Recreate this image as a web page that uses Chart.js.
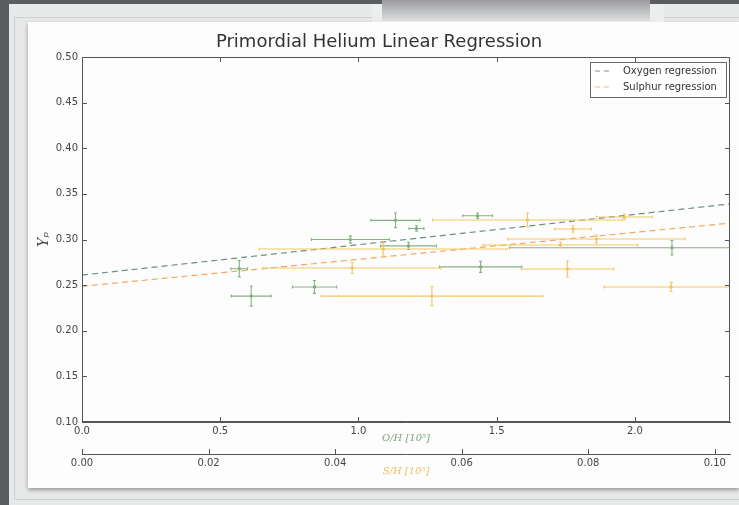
<!DOCTYPE html>
<html><head><meta charset="utf-8">
<script src="https://cdn.jsdelivr.net/npm/chart.js@4.4.1/dist/chart.umd.min.js"></script>
<style>
html,body{margin:0;padding:0;}
body{width:739px;height:505px;overflow:hidden;background:#5b5c60;position:relative;font-family:'DejaVu Sans',sans-serif;}
#frame{position:absolute;left:9px;top:4px;width:730px;height:501px;background:#e7e8e8;}
#hline{position:absolute;left:14px;top:17px;width:725px;height:1px;background:#cfd0d0;}
#vline{position:absolute;left:14px;top:17px;width:1px;height:483px;background:#cfd0d0;}
#bline{position:absolute;left:14px;top:499px;width:725px;height:1px;background:#cfd0d0;}
#panel{position:absolute;left:28px;top:22px;width:711px;height:466px;background:#fdfdfd;box-shadow:0 2px 4px rgba(0,0,0,0.35);}
#ov{position:absolute;left:372px;top:4px;width:292px;height:18px;background:#eceded;}
#ovin{position:absolute;left:382px;top:0;width:268px;height:21px;background:linear-gradient(#9c9c9e,#c4c5c6 60%,#dedfdf);}
canvas{position:absolute;left:28px;top:22px;}
</style></head>
<body>
<div id="frame"></div><div id="hline"></div><div id="vline"></div><div id="bline"></div>
<div id="panel"></div><div id="ov"></div><div id="ovin"></div>
<canvas id="c" width="711" height="466"></canvas>
<script>
// ---- data ----
const oxygenOH    = [0.569, 0.612, 0.841, 0.971, 1.134, 1.210, 1.181, 1.431, 1.442, 2.134];
const oxygenOHErr = [0.030, 0.072, 0.080, 0.141, 0.089, 0.027, 0.101, 0.054, 0.149, 0.587];
const oxygenYp    = [0.268, 0.238, 0.248, 0.300, 0.321, 0.312, 0.293, 0.326, 0.270, 0.291];
const oxygenYpErr = [0.009, 0.011, 0.007, 0.004, 0.008, 0.003, 0.004, 0.003, 0.006, 0.008];

const sulphurSH    = [0.0553, 0.0427, 0.0476, 0.0704, 0.0857, 0.0776, 0.0813, 0.0756, 0.0767, 0.0931];
const sulphurSHErr = [0.0175, 0.0140, 0.0196, 0.0150, 0.0044, 0.0029, 0.0140, 0.0122, 0.0073, 0.0106];
const sulphurYp    = [0.238, 0.2688, 0.2896, 0.3214, 0.3247, 0.3115, 0.3005, 0.294, 0.2677, 0.248];
const sulphurYpErr = [0.0105, 0.006, 0.0066, 0.0077, 0.003, 0.0035, 0.0045, 0.003, 0.0088, 0.005];

const oxygenFitX  = [0, 2.344];
const oxygenFitY  = [0.261, 0.339];
const sulphurFitX = [0, 0.1024];
const sulphurFitY = [0.2487, 0.3180];

const yTicks  = [0.10, 0.15, 0.20, 0.25, 0.30, 0.35, 0.40, 0.45, 0.50];
const ohTicks = [0.0, 0.5, 1.0, 1.5, 2.0];
const shTicks = [0.00, 0.02, 0.04, 0.06, 0.08, 0.10];

const titleText = 'Primordial Helium Linear Regression';
const legendLabels = ['Oxygen regression', 'Sulphur regression'];

// ---- styling ----
const GREEN_BAR = '#86b282', GREEN_PT = '#5f9460';
const ORANGE_BAR = '#f2c865', ORANGE_PT = '#e6b040';
const OXY_FIT = '#6f8f78', SUL_FIT = '#f6a65a';
const AXIS = '#555555';

const zip = (xs, ys) => xs.map((x, i) => ({x: x, y: ys[i]}));

const errorBars = {
  id: 'errorBars',
  afterDatasetsDraw(chart) {
    const {ctx, chartArea: a} = chart;
    ctx.save();
    ctx.beginPath(); ctx.rect(a.left, a.top, a.right - a.left, a.bottom - a.top); ctx.clip();
    chart.data.datasets.forEach((ds) => {
      if (!ds.errX) return;
      const xs = chart.scales[ds.xAxisID], ys = chart.scales.y;
      ctx.strokeStyle = ds.barColor; ctx.lineWidth = 1.1;
      ds.data.forEach((p, i) => {
        const px = xs.getPixelForValue(p.x), py = ys.getPixelForValue(p.y);
        const x0 = xs.getPixelForValue(p.x - ds.errX[i]), x1 = xs.getPixelForValue(p.x + ds.errX[i]);
        const y0 = ys.getPixelForValue(p.y - ds.errY[i]), y1 = ys.getPixelForValue(p.y + ds.errY[i]);
        ctx.beginPath();
        ctx.moveTo(x0, py); ctx.lineTo(x1, py);
        ctx.moveTo(px, y0); ctx.lineTo(px, y1);
        ctx.moveTo(x0, py - 1.5); ctx.lineTo(x0, py + 1.5);
        ctx.moveTo(x1, py - 1.5); ctx.lineTo(x1, py + 1.5);
        ctx.moveTo(px - 1.5, y0); ctx.lineTo(px + 1.5, y0);
        ctx.moveTo(px - 1.5, y1); ctx.lineTo(px + 1.5, y1);
        ctx.stroke();
      });
    });
    ctx.restore();
  }
};

const frameTicks = {
  id: 'frameTicks',
  afterDraw(chart) {
    const {ctx, chartArea: a, scales} = chart;
    ctx.save();
    ctx.strokeStyle = AXIS; ctx.lineWidth = 1;
    ctx.strokeRect(Math.round(a.left) + 0.5, Math.round(a.top) + 0.5, Math.round(a.right - a.left) - 1, Math.round(a.bottom - a.top) - 1);
    ctx.beginPath();
    scales.y.ticks.forEach(t => {
      const p = Math.round(scales.y.getPixelForValue(t.value)) + 0.5;
      ctx.moveTo(a.left, p); ctx.lineTo(a.left + 5, p);
      ctx.moveTo(a.right, p); ctx.lineTo(a.right - 5, p);
    });
    scales.x.ticks.forEach(t => {
      const p = Math.round(scales.x.getPixelForValue(t.value)) + 0.5;
      ctx.moveTo(p, a.bottom); ctx.lineTo(p, a.bottom - 5);
      ctx.moveTo(p, a.top); ctx.lineTo(p, a.top + 5);
    });
    const s2 = scales.x2;
    s2.ticks.forEach(t => {
      const p = Math.round(s2.getPixelForValue(t.value)) + 0.5;
      ctx.moveTo(p, s2.top); ctx.lineTo(p, s2.top - 5);
    });
    ctx.stroke();
    // legend
    const w = 136, h = 35;
    const lx = a.right - 4 - w, ly = a.top + 5;
    ctx.fillStyle = '#ffffff';
    ctx.fillRect(lx, ly, w, h);
    ctx.strokeStyle = '#666'; ctx.lineWidth = 1;
    ctx.strokeRect(Math.round(lx) + 0.5, Math.round(ly) + 0.5, w, h);
    const items = chart.data.datasets.filter(d => d.isFit);
    items.forEach((d, i) => {
      const yy = ly + 9 + i * 16;
      ctx.strokeStyle = d.legendColor; ctx.lineWidth = 1;
      ctx.setLineDash([5, 4]);
      ctx.beginPath(); ctx.moveTo(lx + 5, yy); ctx.lineTo(lx + 22, yy); ctx.stroke();
      ctx.setLineDash([]);
      ctx.fillStyle = '#333'; ctx.font = '10px "DejaVu Sans"';
      ctx.textBaseline = 'middle'; ctx.textAlign = 'left';
      ctx.fillText(d.label, lx + 33, yy);
    });
    ctx.restore();
  }
};

new Chart(document.getElementById('c'), {
  type: 'scatter',
  data: {
    datasets: [
      {label: legendLabels[0], isFit: true, legendColor: '#8a8a8a', data: zip(oxygenFitX, oxygenFitY), xAxisID: 'x', showLine: true,
       borderColor: OXY_FIT, borderWidth: 1.2, borderDash: [6, 4], pointRadius: 0, fill: false},
      {label: legendLabels[1], isFit: true, legendColor: '#f7b47a', data: zip(sulphurFitX, sulphurFitY), xAxisID: 'x2', showLine: true,
       borderColor: SUL_FIT, borderWidth: 1.2, borderDash: [6, 4], pointRadius: 0, fill: false},
      {label: 'Oxygen', data: zip(oxygenOH, oxygenYp), errX: oxygenOHErr, errY: oxygenYpErr, barColor: GREEN_BAR, xAxisID: 'x',
       pointRadius: 1.6, backgroundColor: GREEN_PT, borderColor: GREEN_PT, borderWidth: 0},
      {label: 'Sulphur', data: zip(sulphurSH, sulphurYp), errX: sulphurSHErr, errY: sulphurYpErr, barColor: ORANGE_BAR, xAxisID: 'x2',
       pointRadius: 1.6, backgroundColor: ORANGE_PT, borderColor: ORANGE_PT, borderWidth: 0}
    ]
  },
  options: {
    responsive: false, animation: false, devicePixelRatio: 1,
    layout: {padding: {left: 0, right: 9, top: 0, bottom: 8}},
    plugins: {
      legend: {display: false}, tooltip: {enabled: false},
      title: {display: true, text: titleText, color: '#333', font: {family: 'DejaVu Sans', size: 18, weight: 'normal', lineHeight: 1.2},
              padding: {top: 10, bottom: 3.4}}
    },
    scales: {
      y: {
        type: 'linear', position: 'left', min: 0.10, max: 0.50,
        afterBuildTicks: s => { s.ticks = yTicks.map(v => ({value: v})); },
        afterFit: s => { s.width = 54; },
        grid: {display: false, drawTicks: false},
        border: {display: true, color: AXIS},
        ticks: {padding: 4, color: '#444', font: {family: 'DejaVu Sans', size: 10}, callback: v => Number(v).toFixed(2)},
        title: {display: true, text: 'Yₚ', color: '#444', font: {family: 'DejaVu Serif', size: 14, style: 'italic'}, padding: {top: 8, bottom: 0}}
      },
      x: {
        type: 'linear', position: 'bottom', min: 0, max: 2.344,
        afterBuildTicks: s => { s.ticks = ohTicks.map(v => ({value: v})); },
        afterFit: s => { s.height = 32; },
        grid: {display: false, drawTicks: false},
        border: {display: true, color: AXIS},
        ticks: {padding: 3, color: '#444', font: {family: 'DejaVu Sans', size: 10}, maxRotation: 0, callback: v => Number(v).toFixed(1)},
        title: {display: true, text: 'O/H [10⁵]', color: '#7da57a', font: {family: 'DejaVu Serif', size: 10, style: 'italic'}, padding: {top: 0, bottom: 10}}
      },
      x2: {
        type: 'linear', position: 'bottom', min: 0, max: 0.1024,
        afterBuildTicks: s => { s.ticks = shTicks.map(v => ({value: v})); },
        afterFit: s => { s.height = 26; },
        grid: {display: false, drawTicks: false},
        border: {display: true, color: AXIS},
        ticks: {padding: 3, color: '#444', font: {family: 'DejaVu Sans', size: 10}, maxRotation: 0, callback: v => Number(v).toFixed(2)},
        title: {display: true, text: 'S/H [10⁵]', color: '#f0bf5a', font: {family: 'DejaVu Serif', size: 10, style: 'italic'}, padding: {top: 0, bottom: 3}}
      }
    }
  },
  plugins: [errorBars, frameTicks]
});
</script>
</body></html>
